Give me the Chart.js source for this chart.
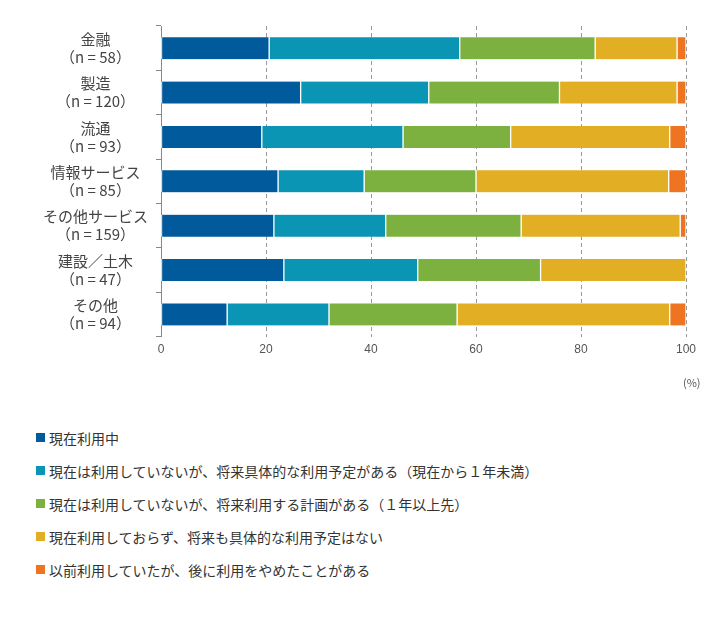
<!DOCTYPE html>
<html><head><meta charset="utf-8">
<script src="https://cdn.jsdelivr.net/npm/chart.js@4"></script>
<style>
  body { margin: 0; background: #fff; font-family: "Noto Sans CJK JP", sans-serif; }
  #wrap { position: relative; width: 723px; height: 400px; }
  #unit { position: absolute; left: 683px; top: 374px; font-size: 11px; color: #555; }
  #legend { position: absolute; left: 36px; top: 421px; font-size: 14px; color: #333; }
  #legend div { height: 33px; display: flex; align-items: center; }
  #legend span.sw { display: inline-block; width: 9px; height: 9px; margin-right: 4px; }
</style>
</head><body>
<div id="wrap"><canvas id="c" width="723" height="400"></canvas><div id="unit">(%)</div></div>
<div id="legend"></div>
<script>
  // ── データ ──
  const categories = [
    ['金融', '（n = 58）'], ['製造', '（n = 120）'], ['流通', '（n = 93）'],
    ['情報サービス', '（n = 85）'], ['その他サービス', '（n = 159）'],
    ['建設／土木', '（n = 47）'], ['その他', '（n = 94）'],
  ];
  const seriesNames = [
    '現在利用中',
    '現在は利用していないが、将来具体的な利用予定がある（現在から１年未満）',
    '現在は利用していないが、将来利用する計画がある（１年以上先）',
    '現在利用しておらず、将来も具体的な利用予定はない',
    '以前利用していたが、後に利用をやめたことがある',
  ];
  const seriesColors = ['#005a9c', '#0b95b5', '#7cb03f', '#e2ae24', '#ee7421'];
  const inUse      = [20.6, 26.6, 19.2, 22.3, 21.5, 23.4, 12.6];
  const within1y   = [36.3, 24.4, 26.9, 16.4, 21.3, 25.5, 19.4];
  const after1y    = [25.8, 24.9, 20.5, 21.3, 25.8, 23.4, 24.4];
  const noPlan     = [15.6, 22.4, 30.3, 36.7, 30.3, 27.7, 40.5];
  const stopped    = [1.7, 1.7, 3.1, 3.3, 1.1, 0, 3.1];
  const xTicks     = [0, 20, 40, 60, 80, 100];

  const values = [inUse, within1y, after1y, noPlan, stopped];

  new Chart(document.getElementById('c').getContext('2d'), {
    type: 'bar',
    data: {
      labels: categories,
      datasets: values.map(function (v, i) {
        return {
          label: seriesNames[i], data: v,
          backgroundColor: seriesColors[i], borderColor: '#ffffff',
          borderWidth: { left: 1, right: 1 }, borderSkipped: false,
          barThickness: 22,
        };
      }),
    },
    options: {
      indexAxis: 'y', responsive: false, animation: false,
      layout: { autoPadding: false, padding: { left: 0, right: 37, top: 8, bottom: 37 } },
      plugins: { legend: { display: false }, tooltip: { enabled: false } },
      scales: {
        x: {
          stacked: true, min: 0, max: 100,
          afterBuildTicks: function (a) { a.ticks = xTicks.map(function (v) { return { value: v }; }); },
          ticks: { color: '#555', font: { size: 12 }, padding: 6 },
          grid: { color: '#999', tickLength: 0, drawTicks: false },
          border: { display: false, dash: [4, 3] },
        },
        y: {
          stacked: true,
          afterFit: function (s) { s.width = 161; },
          ticks: { color: '#444', font: { size: 15, family: 'Noto Sans CJK JP' }, crossAlign: 'center', padding: 8 },
          grid: { offset: true, drawOnChartArea: false, tickLength: 5, color: '#888' },
          border: { color: '#888' },
        },
      },
    },
  });

  // HTML 凡例
  var lg = document.getElementById('legend');
  seriesNames.forEach(function (n, i) {
    var d = document.createElement('div');
    d.innerHTML = '<span class="sw" style="background:' + seriesColors[i] + '"></span>' + n;
    lg.appendChild(d);
  });
</script>
</body></html>
